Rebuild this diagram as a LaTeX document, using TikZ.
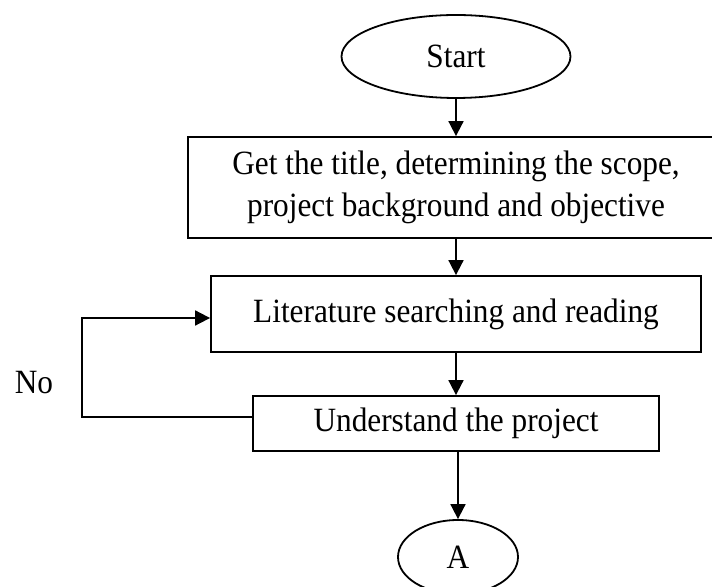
\documentclass[tikz,border=0pt]{standalone}
\usepackage{fontspec}
\setmainfont{Liberation Serif}[FakeStretch=0.92]
\usetikzlibrary{shapes.geometric,arrows.meta}

\begin{document}
\begin{tikzpicture}[x=0.5pt, y=-0.5pt, line width=0.9pt,
    every node/.style={font=\fontsize{17}{21}\selectfont},
    stepbox/.style={draw, rectangle, inner sep=0pt, align=center},
    terminal/.style={draw, ellipse, inner sep=0pt},
    arr/.style={-{Triangle[width=7.5pt,length=7.5pt]}}]
  \useasboundingbox (0,0) rectangle (712,587);
  \node[terminal, minimum width=114.5pt, minimum height=41.5pt] (start) at (456,56.5) {Start};
  \node[stepbox, minimum width=268pt, minimum height=50.5pt] (title) at (456,187.5)
    {Get the title, determining the scope,\\project background and objective};
  \node[stepbox, minimum width=245pt, minimum height=38pt] (lit) at (456,314) {Literature searching and reading};
  \node[stepbox, minimum width=203pt, minimum height=27.5pt] (und) at (456,423.5) {Understand the project};
  \node[terminal, minimum width=60pt, minimum height=37pt] (conA) at (458,557) {A};
  \node (no) at (34,383) {No};
  \draw[arr] (start) -- (title);
  \draw[arr] (title) -- (lit);
  \draw[arr] (lit) -- (und);
  \draw[arr] (und.south -| conA.north) -- (conA.north);
  % loop back when the project is not understood
  \draw[arr] ([yshift=3.25pt]und.west) -- ++(-85pt,0) |- ([yshift=-2pt]lit.west);
\end{tikzpicture}
\end{document}
